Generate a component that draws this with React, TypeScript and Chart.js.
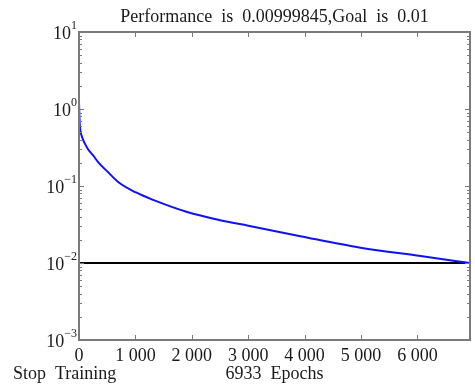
import { useEffect, useRef } from 'react';
import { Chart, registerables } from 'chart.js';

Chart.register(...registerables);

const titleText = 'Performance  is  0.00999845,Goal  is  0.01';
const xTitleText = '6933  Epochs';
const stopText = 'Stop  Training';

const epochs = [0, 5, 15, 30, 60, 100, 160, 243, 350, 500, 700, 1000, 1314, 1918, 2504, 3002, 3925, 4991, 6057, 6933];
const performance = [1.25, 0.9, 0.6, 0.5, 0.42, 0.36, 0.3, 0.253, 0.2, 0.155, 0.112, 0.083, 0.066, 0.046, 0.036, 0.0305, 0.0223, 0.0158, 0.0123, 0.00999845];
const goalValue = 0.01;
const maxEpoch = 6933;

const xTickValues = [0, 1000, 2000, 3000, 4000, 5000, 6000];
const xTickLabels = ['0', '1 000', '2 000', '3 000', '4 000', '5 000', '6 000'];
const yPowers = [1, 0, -1, -2, -3];

const FONT = "'Liberation Serif', 'DejaVu Serif', serif";
const TEXT = '#1a1a1a';
const FRAME = '#7a7a7a';

const framePlugin = {
  id: 'frame',
  afterDatasetsDraw(chart: any) {
    const { ctx, chartArea } = chart;
    const { left, right, top, bottom } = chartArea;
    const xs = chart.scales.x;
    const ys = chart.scales.y;
    ctx.save();
    ctx.strokeStyle = FRAME;
    ctx.lineWidth = 1;
    ctx.beginPath();
    xTickValues.forEach((v) => {
      if (v === 0) return;
      const px = Math.round(xs.getPixelForValue(v)) + 0.5;
      ctx.moveTo(px, bottom);
      ctx.lineTo(px, bottom - 5);
      ctx.moveTo(px, top);
      ctx.lineTo(px, top + 5);
    });
    for (let p = -3; p < 1; p++) {
      for (let m = 1; m <= 9; m++) {
        const v = m * Math.pow(10, p);
        const py = Math.round(ys.getPixelForValue(v)) + 0.5;
        const len = m === 1 ? 5 : 3;
        ctx.moveTo(left, py);
        ctx.lineTo(left + len, py);
        ctx.moveTo(right, py);
        ctx.lineTo(right - len, py);
      }
    }
    ctx.stroke();
    ctx.lineWidth = 2;
    ctx.strokeRect(left, top, right - left, bottom - top);
    ctx.restore();
  },
  afterDraw(chart: any) {
    const { ctx, chartArea } = chart;
    const ys = chart.scales.y;
    ctx.save();
    ctx.fillStyle = TEXT;
    yPowers.forEach((p) => {
      const py = ys.getPixelForValue(Math.pow(10, p));
      const exp = p < 0 ? '\u2212' + String(-p) : String(p);
      ctx.font = `12px ${FONT}`;
      const ew = ctx.measureText(exp).width;
      ctx.textAlign = 'right';
      ctx.textBaseline = 'middle';
      const xe = chartArea.left - 2;
      ctx.fillText(exp, xe, py - 6);
      ctx.font = `18px ${FONT}`;
      ctx.fillText('10', xe - ew, py + 2);
    });
    ctx.font = `18px ${FONT}`;
    ctx.textAlign = 'left';
    ctx.textBaseline = 'middle';
    ctx.fillText(stopText, 13, 374);
    ctx.restore();
  },
};

export default function App() {
  const ref = useRef<HTMLCanvasElement | null>(null);
  useEffect(() => {
    if (!ref.current) return;
    const chart = new Chart(ref.current, {
      type: 'line',
      data: {
        datasets: [
          {
            label: 'Performance',
            data: epochs.map((e, i) => ({ x: e, y: performance[i] })),
            borderColor: '#1010ff',
            borderWidth: 2,
            pointRadius: 0,
            cubicInterpolationMode: 'monotone',
            fill: false,
          },
          {
            label: 'Goal',
            data: [
              { x: 0, y: goalValue },
              { x: maxEpoch, y: goalValue },
            ],
            borderColor: '#000000',
            borderWidth: 2,
            pointRadius: 0,
            fill: false,
          },
        ],
      },
      options: {
        responsive: false,
        animation: false,
        layout: { padding: { left: 0, right: 5, top: 0, bottom: 0 } },
        plugins: {
          legend: { display: false },
          tooltip: { enabled: false },
          title: {
            display: true,
            text: titleText,
            fullSize: false,
            color: TEXT,
            font: { family: FONT, size: 18, weight: 'normal', lineHeight: 1.2 },
            padding: { top: 6, bottom: 4.4 },
          },
        },
        scales: {
          x: {
            type: 'linear',
            min: 0,
            max: maxEpoch,
            grid: { display: false, drawTicks: false },
            border: { display: false },
            afterBuildTicks: (s: any) => {
              s.ticks = xTickValues.map((v) => ({ value: v }));
            },
            ticks: {
              maxRotation: 0,
              autoSkip: false,
              padding: 5,
              color: TEXT,
              font: { family: FONT, size: 18 },
              callback: (_v: any, i: number) => xTickLabels[i] ?? '',
            },
            title: {
              display: true,
              text: xTitleText,
              color: TEXT,
              font: { family: FONT, size: 18, lineHeight: 1.2 },
              padding: { top: 0, bottom: 0 },
            },
            afterFit: (s: any) => {
              s.height = 45;
            },
          },
          y: {
            type: 'logarithmic',
            min: 0.001,
            max: 10,
            grid: { display: false, drawTicks: false },
            border: { display: false },
            ticks: { display: false },
            afterFit: (s: any) => {
              s.width = 79;
            },
          },
        },
      },
      plugins: [framePlugin],
    } as any);
    return () => chart.destroy();
  }, []);
  return (
    <div style={{ position: 'fixed', left: 0, top: 0, width: 475, height: 385, background: '#fff' }}>
      <canvas ref={ref} width={475} height={385} />
    </div>
  );
}
